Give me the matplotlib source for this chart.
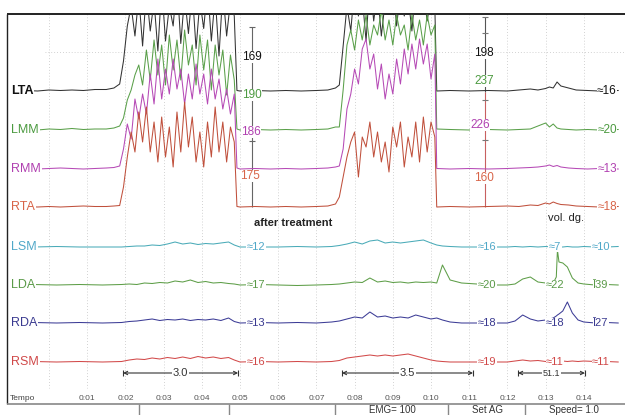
import matplotlib as mpl
mpl.use('Agg')
import matplotlib.pyplot as plt
import numpy as np

plt.rcParams['font.family'] = ['Liberation Sans', 'DejaVu Sans']

# ---- data -------------------------------------------------------------
# time (s) for the upper four channels
t_top = [-0.95, -0.6, -0.3, 0.0, 0.3, 0.6, 0.9, 1.2, 1.5, 1.7, 1.85,
         1.95, 2.05, 2.15, 2.25, 2.35, 2.45, 2.55, 2.65, 2.75, 2.85,
         2.95, 3.05, 3.15, 3.25, 3.35, 3.45, 3.55, 3.65, 3.75, 3.85,
         3.95, 4.05, 4.15, 4.25, 4.35, 4.45, 4.55, 4.65, 4.75, 4.85,
         4.92, 5.0, 5.4, 5.8, 6.2, 6.6, 7.0, 7.3, 7.5,
         7.6, 7.7, 7.8, 7.9, 8.0, 8.1, 8.2, 8.3, 8.4, 8.5, 8.6, 8.7, 8.8,
         8.9, 9.0, 9.1, 9.2, 9.3, 9.4, 9.5, 9.6, 9.7, 9.8, 9.9, 10.0, 10.1,
         10.15, 10.5, 11.0, 11.5, 12.0, 12.3, 12.6, 12.8, 13.0, 13.1, 13.2,
         13.3, 13.4, 13.6, 13.8, 14.1, 14.4, 14.9]

# EMG amplitude (uV)
lta = [0, 1, 0, 2, 1, 2, 1, 3, 3, 6, 14,
       60, 130, 170, 110, 190, 90, 200, 120, 180, 80, 210, 100, 170, 130, 220,
       95, 190, 115, 200, 85, 180, 125, 210, 100, 190, 70, 200, 110, 180, 150,
       1, 0, 1, 0, 1, 0, 1, 2, 6,
       12, 90, 170, 120, 210, 150, 190, 100, 220, 140, 200, 110, 180, 160,
       220, 130, 200, 150, 190, 120, 210, 160, 200, 140, 190, 170,
       0, 1, 0, 1, 0, 2, 4, 2, 5, 8, 6, 18, 10, 6, 2, 1, 0, 1]
lmm = [0, 1, 0, 2, 1, 3, 1, 2, 2, 4, 8,
       24, 60, 80, 110, 130, 90, 160, 100, 180, 110, 170, 90, 190, 120, 180,
       100, 200, 130, 170, 90, 190, 120, 180, 80, 170, 110, 160, 70, 150, 100,
       2, 0, 1, 0, 1, 0, 1, 2, 6,
       6, 80, 170, 200, 160, 220, 180, 230, 170, 210, 190, 240, 180, 220,
       170, 230, 190, 210, 160, 230, 180, 220, 170, 230, 190, 210,
       2, 1, 0, 1, 0, 1, 2, 8, 14, 6, 12, 4, 2, 1, 0, 1, 0, 1]
rmm = [0, 1, 0, 1, 2, 1, 0, 1, 2, 3, 6,
       40, 90, 60, 140, 100, 150, 110, 190, 130, 220, 140, 200, 150, 220, 160,
       200, 130, 190, 140, 210, 150, 190, 130, 200, 140, 180, 120, 160, 110, 150,
       2, 0, 1, 0, 1, 0, 1, 2, 4,
       6, 40, 120, 150, 200, 170, 240, 260, 200, 230, 160, 210, 140, 190,
       150, 220, 170, 240, 190, 250, 200, 260, 210, 250, 180, 230,
       1, 0, 1, 0, 1, 2, 3, 4, 6, 8, 5, 7, 4, 2, 1, 0, 1, 0]
rta = [0, 1, 0, 1, 0, 1, 2, 1, 1, 2, 3,
       40, 100, 150, 110, 190, 130, 200, 110, 170, 90, 180, 100, 160, 80, 190,
       110, 210, 120, 180, 90, 150, 80, 170, 100, 200, 110, 170, 90, 160, 130,
       1, 0, 1, 0, 1, 0, 1, 2, 6,
       20, 60, 100, 130, 150, 60, 140, 120, 170, 100, 150, 90, 130, 70,
       160, 120, 170, 80, 140, 100, 170, 90, 180, 110, 170, 140,
       0, 1, 0, 1, 2, 1, 4, 3, 8, 6, 10, 7, 5, 4, 2, 1, 0, 1]

# time (s) for the lower four channels
t_low = [-0.95, -0.4, 0.2, 0.8, 1.4,
         1.9, 2.1, 2.3, 2.5, 2.7, 2.9, 3.1, 3.3, 3.5, 3.7, 3.9, 4.1, 4.3,
         4.5, 4.7, 4.85,
         5.0, 5.5, 6.0, 6.5, 7.0, 7.4,
         7.6, 7.8, 8.0, 8.2, 8.4, 8.6, 8.8, 9.0, 9.2, 9.4, 9.6, 9.8, 10.0,
         10.15, 10.3, 10.5, 10.8, 11.2, 11.6,
         12.0, 12.2, 12.4, 12.6, 12.8, 13.0, 13.2, 13.28, 13.31, 13.35,
         13.45, 13.57, 13.7, 13.85, 14.0, 14.3, 14.6, 14.9]

lsm = [0, 0, 1, 0, 0,
       0, 1, 2, 2, 4, 3, 6, 10, 6, 8, 5, 7, 6, 8, 10, 4,
       0, 0, 0, 1, 0, 1,
       3, 6, 10, 6, 12, 14, 8, 10, 8, 10, 12, 14, 8,
       4, 2, 1, 0, 0, 0,
       0, 1, 0, 1, 0, 1, 0, 0, 1, 0, 0, 1, 0, 0, 1, 0, 0, 1]
lda = [0, 1, 0, 1, 0,
       1, 2, 1, 4, 3, 5, 4, 8, 6, 10, 5, 7, 4, 5, 3, 2,
       0, 1, 0, -1, 0, 1,
       2, 4, 6, 5, 14, 6, 8, 5, 6, 4, 6, 5, 6,
       4, 40, 10, 4, 2, 0,
       0, 2, 12, 16, 6, 4, 4, 16, 70, 46, 44, 36, 14, 4, 2, 0, 1, 0]
rda = [0, 1, 0, 1, 0,
       1, 3, 4, 6, 8, 5, 7, 6, 8, 5, 7, 6, 8, 5, 10, 3,
       0, 1, 0, 1, 0, 2,
       4, 8, 12, 10, 22, 12, 14, 10, 12, 10, 16, 12, 8,
       10, 6, 2, 0, 0, 0,
       0, 4, 16, 8, 4, 6, 10, 14, 16, 18, 24, 42, 20, 6, 2, 0, 1, 0]
rsm = [0, 1, 0, 1, 0,
       1, 4, 6, 5, 8, 6, 9, 7, 10, 7, 11, 8, 10, 7, 9, 4,
       0, 1, 0, 1, 0, 1,
       3, 8, 10, 12, 14, 12, 14, 12, 14, 16, 12, 8, 4,
       2, 1, 0, 0, 0, 0,
       0, 2, 4, 2, 3, 1, 2, 1, 2, 1, 2, 1, 2, 1, 2, 1, 1, 0]

channels = ['LTA', 'LMM', 'RMM', 'RTA', 'LSM', 'LDA', 'RDA', 'RSM']
peaks_1 = ['169', '190', '186', '175']
peaks_2 = ['198', '237', '226', '160']
mean_top = ['≈16', '≈20', '≈13', '≈18']
mean_low = [['≈12', '≈16', '≈7', '≈10'],
            ['≈17', '≈20', '≈22', 'Ī39'],
            ['≈13', '≈18', '≈18', 'Ī27'],
            ['≈16', '≈19', '≈11', '≈11']]
durations = [(1.94, 4.95, '3.0'), (7.67, 11.1, '3.5'), (12.28, 14.03, '51.1')]
seconds = list(range(1, 15))

# ---- layout -----------------------------------------------------------
X0, PPS = 49.0, 38.2      # pixel of 0:00 and pixels per second
GAIN = 0.5                # px per uV


def sec(px):
    return (px - X0) / PPS


base = [91, 130, 169, 207, 247, 285, 323, 362]
line_col = ['#333333', '#5aa04a', '#b64ab6', '#c0503c',
            '#4aabb8', '#5e9e48', '#3c3c96', '#d24a4a']
text_col = ['#111111', '#4c9a40', '#b040b0', '#d86448',
            '#50a8c8', '#5a9a48', '#3a3a90', '#d04848']

fig = plt.figure(figsize=(6.25, 4.15), dpi=100)
ax = fig.add_axes([0, 0, 1, 401 / 415])
ax.set_xlim(sec(0), sec(625))
ax.set_ylim(415, 14)
ax.axis('off')

# dotted grid
for s in range(0, 15):
    ax.vlines(s, 14, 388, color='#c4c4c4', lw=0.6, linestyle=(0, (1, 2.5)))
ax.hlines(52, sec(45), sec(625), color='#c4c4c4', lw=0.6, linestyle=(0, (1, 2.5)))

# traces
traces = [(t_top, lta), (t_top, lmm), (t_top, rmm), (t_top, rta),
          (t_low, lsm), (t_low, lda), (t_low, rda), (t_low, rsm)]
for i, (t, v) in enumerate(traces):
    y = base[i] - GAIN * np.asarray(v, dtype=float)
    ax.plot(t, y, color=line_col[i], lw=0.75, zorder=3)
    ax.text(sec(11), base[i], channels[i], color=text_col[i], fontsize=9,
            fontweight='bold' if i == 0 else 'normal', ha='left', va='center',
            zorder=5, bbox=dict(facecolor='white', edgecolor='none', pad=0.6))

box = dict(facecolor='white', edgecolor='none', pad=0.3)

# cursor 1
ax.vlines(sec(252), 27, 207, color='#666666', lw=0.8, zorder=2)
ax.hlines([27, 141], sec(249), sec(255), color='#666666', lw=0.8)
for i, (yy, xx) in enumerate(zip([57, 95, 132, 176], [252, 252, 251, 250])):
    ax.text(sec(xx), yy, peaks_1[i], color=text_col[i], fontsize=8.5,
            ha='center', va='center', zorder=6, bbox=box)

# cursor 2
ax.vlines(sec(485), 17, 92, color='#555555', lw=0.8, zorder=2)
ax.vlines(sec(485), 92, 207, color='#c86060', lw=0.8, zorder=2)
ax.hlines([17, 33, 100, 140], sec(482), sec(488), color='#777777', lw=0.8)
for i, (yy, xx) in enumerate(zip([53, 81, 125, 178], [484, 484, 480, 484])):
    ax.text(sec(xx), yy, peaks_2[i], color=text_col[i], fontsize=8.5,
            ha='center', va='center', zorder=6, bbox=box)

# mean values on the right of upper channels
for i in range(4):
    ax.text(sec(607), base[i], mean_top[i], color=text_col[i], fontsize=8.5,
            ha='center', va='center', zorder=6, bbox=box)

# mean values of lower channels
for j, row in enumerate(mean_low):
    for xx, lab in zip([256, 487, 555, 601], row):
        ax.text(sec(xx), base[4 + j], lab, color=text_col[4 + j], fontsize=8,
                ha='center', va='center', zorder=6, bbox=box)

ax.text(sec(293), 223, 'after treatment', fontsize=8, fontweight='bold',
        color='#222222', ha='center', va='center')
ax.text(sec(566), 218, 'vol. dg.', fontsize=8, color='#222222',
        ha='center', va='center')

# duration bars
for t0, t1, lab in durations:
    ax.annotate('', xy=(t1, 373), xytext=(t0, 373),
                arrowprops=dict(arrowstyle='<->', lw=0.8, color='#333333',
                                shrinkA=0, shrinkB=0, mutation_scale=6))
    ax.vlines([t0, t1], 370, 376, color='#333333', lw=0.8)
    ax.text((t0 + t1) / 2, 373, lab, fontsize=8 if len(lab) < 4 else 6.5,
            color='#333333', ha='center', va='center', bbox=box)

# time labels
ax.text(sec(10), 398, 'Tempo', fontsize=6, color='#444444', ha='left', va='center')
for s in seconds:
    ax.text(s, 398, '0:%02d' % s, fontsize=6, color='#555555',
            ha='center', va='center')

# frame and status strip
ax.hlines(14, sec(7), sec(625), color='#111111', lw=1.3, clip_on=False)
ax.vlines(sec(7), 14, 404, color='#222222', lw=1.0)
ax.hlines(404, sec(7), sec(625), color='#888888', lw=1.2)
ax.vlines([sec(p) for p in [139, 229, 335, 448, 525]], 404, 415,
          color='#888888', lw=1.0)
for xx, lab in zip([392, 487, 574], ['EMG= 100', 'Set AG', 'Speed= 1.0']):
    ax.text(sec(xx), 410, lab, fontsize=7, color='#333333',
            ha='center', va='center')

fig.savefig('out.png', dpi=100)
